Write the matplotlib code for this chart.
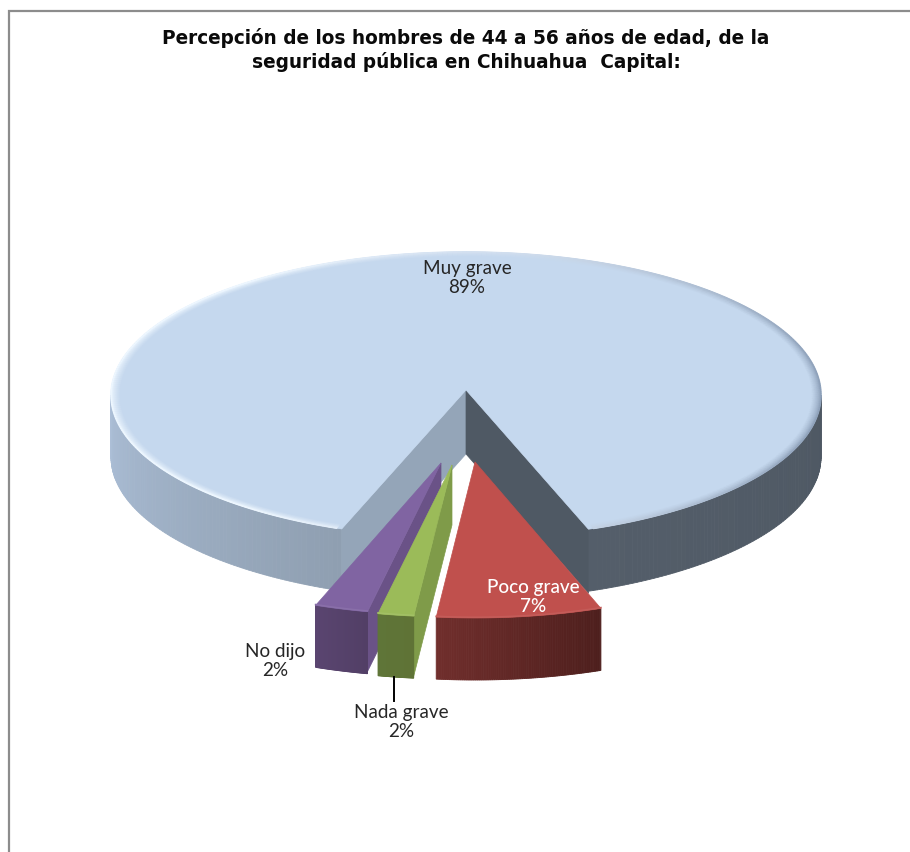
import matplotlib
matplotlib.use("Agg")
import matplotlib.pyplot as plt
from matplotlib.collections import LineCollection
from matplotlib.colors import to_rgb
from matplotlib.patches import Polygon
import numpy as np

# Chart data, clockwise from the first slice
categories = ["Muy grave", "Poco grave", "Nada grave", "No dijo"]
values = [88.7, 7.3, 1.6, 2.4]
title_lines = ["Percepción de los hombres de 44 a 56 años de edad, de la",
               "seguridad pública en Chihuahua  Capital:"]

# Layout in pixels of the 910x852 picture
FIRST_ANGLE = 200.5
DEPTH = 60
RIM = [(466, 395, 355, 143), (475, 462, 365, 156), (452, 465, 360, 152), (441, 463, 358, 152)]
APEX = (466, 390)
LABEL_POS = [(467, 278), (533, 597), (401, 722), (275, 661)]
LABEL_COLOR = ["#262626", "white", "#262626", "#262626"]
LABEL_WEIGHT = ["normal", "medium", "normal", "normal"]

TOP_COLOR = ["#c5d8ee", "#c0504d", "#9bbb59", "#8064a2"]
SIDE_COLOR = [None, ("#702e2c", "#4e1f1d"), ("#5f7538", "#5f7336"), ("#5a4570", "#523f66")]
WALL_COLOR = [None, None, "#7f9b49", "#6a5287"]


def mix(c1, c2, t):
    c1, c2 = np.array(to_rgb(c1)), np.array(to_rgb(c2))
    return tuple(c1 + (c2 - c1) * t)


def rim_points(rim, a0, a1, n=120):
    # angles are clockwise from the top of the ellipse
    cx, cy, rx, ry = rim
    a = np.radians(np.linspace(a0, a1, n))
    return np.column_stack([cx + rx * np.sin(a), cy - ry * np.cos(a)])


def draw_side(ax, rim, a0, a1, col0, col1, z):
    # outer wall as thin strips so it can carry a gradient
    pts = rim_points(rim, a0, a1, 90)
    for i in range(len(pts) - 1):
        t = i / (len(pts) - 2)
        quad = [pts[i], pts[i + 1], pts[i + 1] + [0, DEPTH + 2], pts[i] + [0, DEPTH + 2]]
        c = mix(col0, col1, t)
        ax.add_patch(Polygon(quad, closed=True, fc=c, ec=c, lw=0.6, zorder=z))


def bevel_color(a, fade):
    # bright on the left of the rim, dark on the right, fading into the top colour
    s = np.sin(np.radians(a))
    if s < 0:
        edge = mix("#d3e0f0", "#eef7ff", min(1, -s * 1.6))
    else:
        edge = mix("#d3e0f0", "#8da0b9", s ** 1.5)
    return mix(edge, TOP_COLOR[0], fade)


fig = plt.figure(figsize=(9.1, 8.52), dpi=100)
ax = fig.add_axes([0, 0, 1, 1])
ax.set_xlim(0, 910)
ax.set_ylim(852, 0)
ax.axis("off")

# chart area border, only left and top are in the frame
ax.plot([9, 9, 910], [852, 11, 11], color="#8c8c8c", lw=1.6, solid_joinstyle="miter", zorder=1)

angles = FIRST_ANGLE + np.concatenate([[0], np.cumsum(values)]) * 3.6

# big slice
a0, a1 = angles[0], angles[1]
draw_side(ax, RIM[0], a0, 270, "#8f9fb1", "#abbed6", 2)
draw_side(ax, RIM[0], 450, a1, "#4e5863", "#545e6a", 2)

p_left = rim_points(RIM[0], a0, a0, 2)[0]
p_right = rim_points(RIM[0], a1, a1, 2)[0]
apex = np.array(APEX, dtype=float)
for p, c in [(p_left, "#94a5b8"), (p_right, "#4f5964")]:
    wall = [apex, p, p + [0, DEPTH + 4], apex + [0, DEPTH + 4]]
    ax.add_patch(Polygon(wall, closed=True, fc=c, ec=c, lw=0.5, zorder=3))

top = np.vstack([[apex], rim_points(RIM[0], a0, a1, 400)])
ax.add_patch(Polygon(top, closed=True, fc=TOP_COLOR[0], ec=TOP_COLOR[0], lw=0.5, zorder=4))

# soft bevel running round the rim
cx, cy, rx, ry = RIM[0]
rim_angles = np.linspace(a0 + 0.8, a1 - 0.8, 401)
BEVEL = 8
for d in np.arange(BEVEL, -0.1, -0.5):
    inset = rim_points((cx, cy, rx - d * 1.1, ry - d * 0.55), rim_angles[0], rim_angles[-1], 401)
    segs = np.stack([inset[:-1], inset[1:]], axis=1)
    fade = (d / BEVEL) ** 0.7
    cols = [bevel_color(a, fade) for a in rim_angles[:-1]]
    ax.add_collection(LineCollection(segs, colors=cols, linewidths=1.1, zorder=5))

# small slices, the leftmost first so they overlap as in the picture
for i in [3, 2, 1]:
    a0, a1 = angles[i], angles[i + 1]
    rim = RIM[i]
    tip = np.array(rim[:2], dtype=float)
    z = 10 + (3 - i) * 3
    if WALL_COLOR[i]:
        edge = rim_points(rim, a0, a0, 2)[0]
        wall = [tip, edge, edge + [0, DEPTH], tip + [0, DEPTH]]
        ax.add_patch(Polygon(wall, closed=True, fc=WALL_COLOR[i], ec=WALL_COLOR[i], lw=0.5, zorder=z))
    # going clockwise the angles run right to left, so the gradient runs from the left
    draw_side(ax, rim, a1, a0, SIDE_COLOR[i][0], SIDE_COLOR[i][1], z)
    arc = rim_points(rim, a0, a1, 60)
    ax.add_patch(Polygon(np.vstack([[tip], arc]), closed=True, fc=TOP_COLOR[i], ec=TOP_COLOR[i],
                         lw=0.5, zorder=z + 1))
    ax.plot(arc[:, 0], arc[:, 1] - 0.8, color=mix(TOP_COLOR[i], "white", 0.07), lw=1.2, zorder=z + 2)

# leader line for Nada grave
ax.plot([394, 394], [677, 701], color="black", lw=1.4, zorder=20)

ax.text(466, 38, title_lines[0], ha="center", va="center", fontsize=13.35, fontweight="bold",
        family="DejaVu Sans", color="#0a0a0a", zorder=30)
ax.text(466, 62, title_lines[1], ha="center", va="center", fontsize=13.35, fontweight="bold",
        family="DejaVu Sans", color="#0a0a0a", zorder=30)

for i, name in enumerate(categories):
    x, y = LABEL_POS[i]
    ax.text(x, y, f"{name}\n{round(values[i])}%", ha="center", va="center", fontsize=13.6,
            family="Lato", color=LABEL_COLOR[i], fontweight=LABEL_WEIGHT[i], linespacing=1.14, zorder=30)

fig.savefig("out.png", dpi=100, facecolor="white")
